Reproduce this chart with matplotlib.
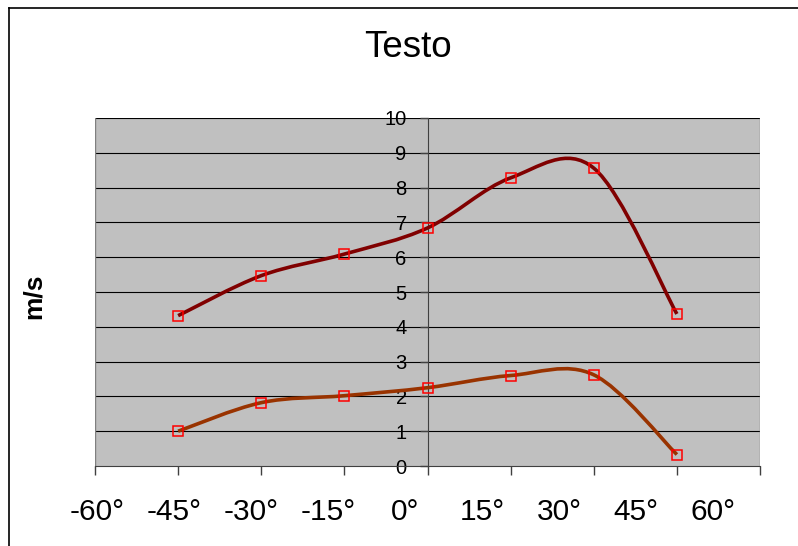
import numpy as np
import matplotlib
matplotlib.use("Agg")
import matplotlib.pyplot as plt
from matplotlib.path import Path
from matplotlib.patches import PathPatch
from matplotlib.lines import Line2D

plt.rcParams['font.family'] = ['Liberation Sans', 'DejaVu Sans']

# Dati
angoli = [-45, -30, -15, 0, 15, 30, 45]
serie_alta = [4.32, 5.47, 6.09, 6.84, 8.28, 8.56, 4.37]
serie_bassa = [1.0, 1.82, 2.02, 2.25, 2.6, 2.62, 0.33]
etichette_x = ['-60°', '-45°', '-30°', '-15°', '0°', '15°', '30°', '45°', '60°']
tick_x = [-60, -45, -30, -15, 0, 15, 30, 45, 60]
tick_y = list(range(0, 11))


def curva_liscia(x, y):
    # bezier come la linea smussata di Excel
    p = np.column_stack([x, y]).astype(float)
    n = len(p)
    verts = [p[0]]
    codes = [Path.MOVETO]
    for i in range(n - 1):
        p0 = p[i - 1] if i > 0 else p[i]
        p3 = p[i + 2] if i + 2 < n else p[i + 1]
        c1 = p[i] + (p[i + 1] - p0) / 6
        c2 = p[i + 1] - (p3 - p[i]) / 6
        verts += [c1, c2, p[i + 1]]
        codes += [Path.CURVE4] * 3
    return Path(verts, codes)


W, H = 798, 546
fig = plt.figure(figsize=(W / 100, H / 100), dpi=100)
ax = fig.add_axes([95 / W, (H - 466) / H, 665 / W, 348 / H])
ax.set_facecolor('#C0C0C0')
ax.set_xlim(-60, 60)
ax.set_ylim(0, 10)

for v in tick_y[1:]:
    ax.axhline(v, color='black', lw=0.8, zorder=1)
ax.axvline(-60, color='#808080', lw=1, zorder=1)
ax.axvline(60, color='#808080', lw=1, zorder=1)

for ys, col in [(serie_alta, '#800000'), (serie_bassa, '#993300')]:
    ax.add_patch(PathPatch(curva_liscia(angoli, ys), facecolor='none',
                           edgecolor=col, lw=2.6, zorder=3))
    ax.plot(angoli, ys, ls='none', marker='s', ms=7, mfc='none',
            mec='#FF0000', mew=1.1, zorder=4)

for s in ['top', 'right']:
    ax.spines[s].set_visible(False)
ax.spines['left'].set_position(('data', 0))
ax.spines['left'].set_color('#404040')
ax.spines['bottom'].set_color('#404040')

ax.set_yticks(tick_y)
ax.tick_params(axis='y', direction='out', length=6, width=1, pad=9,
               labelsize=14.5, color='#404040')
ax.set_xticks(tick_x)
ax.set_xticklabels([''] * len(tick_x))
ax.tick_params(axis='x', direction='out', length=6.5, width=1, color='#404040')

for xp, lab in zip(np.linspace(97, 713, len(etichette_x)), etichette_x):
    fig.text(xp / W, 1 - 520 / H, lab, ha='center', va='baseline', fontsize=21.5)

fig.text(408 / W, 1 - 57 / H, 'Testo', ha='center', va='baseline', fontsize=26.5)
fig.text(34 / W, 1 - 296 / H, 'm/s', ha='center', va='center', rotation=90,
         fontsize=19, fontweight='bold')

# cornice esterna
fig.add_artist(Line2D([9 / W, 9 / W], [-0.1, 1 - 7.5 / H], color='black', lw=1.2))
fig.add_artist(Line2D([9 / W, 1.1], [1 - 7.5 / H, 1 - 7.5 / H], color='black', lw=1.2))

fig.savefig('out.png', dpi=100)
